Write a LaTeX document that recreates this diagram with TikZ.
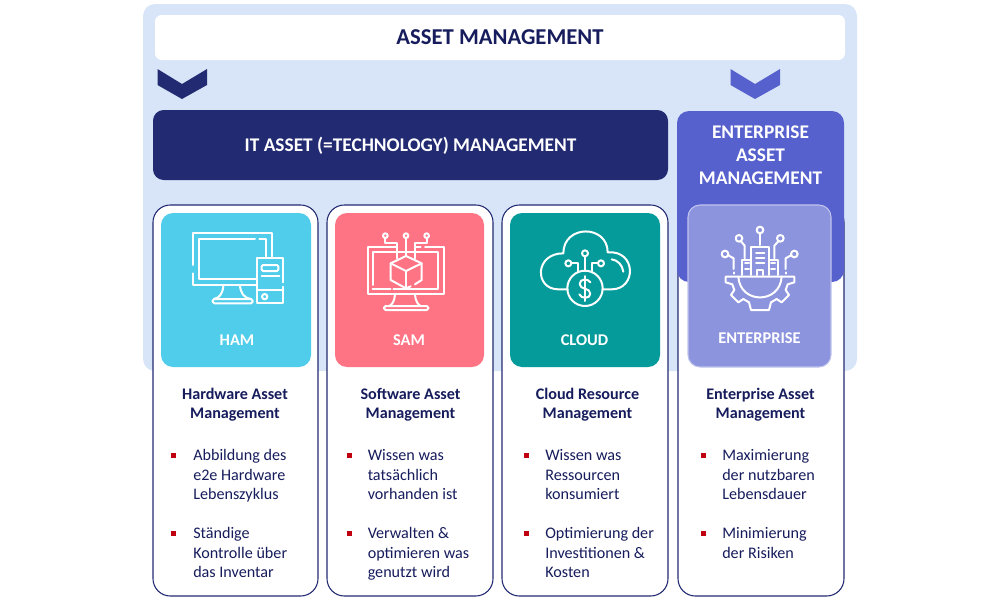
\documentclass[tikz,border=0pt]{standalone}
\usepackage{fontspec}
\setmainfont{Carlito}
\definecolor{navy}{HTML}{222A72}
\definecolor{inktext}{HTML}{161C5C}
\definecolor{backblue}{HTML}{D8E5F8}
\definecolor{entblue}{HTML}{5661CD}
\definecolor{hamtile}{HTML}{4FCDEB}
\definecolor{samtile}{HTML}{FF7485}
\definecolor{cloudtile}{HTML}{059B9A}
\definecolor{enttile}{HTML}{8D94DE}
\definecolor{bulletred}{HTML}{C00010}
\tikzset{
	card/.style = {draw = navy, line width = 0.8pt, fill = white, rounded corners = 13pt},
	tile/.style = {rounded corners = 9pt},
	icon/.style = {draw = white, line width = 1.5pt, line join = round, line cap = round},
	tilelabel/.style = {text = white, font = \fontsize{12.3}{14}\selectfont\bfseries},
	cardhead/.style = {text = inktext, align = center, font = \fontsize{12.1}{14.6}\selectfont\bfseries},
	cardtext/.style = {text = inktext, align = left, anchor = north west, inner sep = 0pt, font = \fontsize{12.1}{14.6}\selectfont},
	headtext/.style = {text = white, align = center, font = \fontsize{14.5}{17.3}\selectfont\bfseries}
}
\begin{document}
\begin{tikzpicture}[x = 0.75pt, y = -0.75pt]
	\useasboundingbox (0, 0) rectangle (1000, 600);
	
	\fill[backblue, rounded corners = 9pt] (143, 4) rectangle (857, 371);
	\fill[white, rounded corners = 5pt] (155, 15) rectangle (845, 60);
	\node[text = inktext, font = \fontsize{17}{20}\selectfont\bfseries] (title) at (500, 37.5) {ASSET MANAGEMENT};
	
	\fill[navy] (157.5, 69) -- (182, 84) -- (207, 69) -- (207, 85) -- (182, 99) -- (157.5, 85) -- cycle;
	\fill[entblue] (730.5, 69) -- (755, 84) -- (780, 69) -- (780, 85) -- (755, 99) -- (730.5, 85) -- cycle;
	
	\fill[navy, rounded corners = 8pt] (153, 110) rectangle (668, 180);
	\node[headtext] (itasset) at (410.5, 145.5) {IT ASSET (=TECHNOLOGY) MANAGEMENT};
	
	\foreach \xa/\xb in {153/318, 327/493, 502/668, 678/844}
	\draw[card] (\xa, 205) rectangle (\xb, 596);
	
	\fill[entblue, rounded corners = 9pt] (677, 111) rectangle (844, 282);
	\node[headtext] (enterprisehead) at (760.5, 155.5) {ENTERPRISE\\ASSET\\MANAGEMENT};
	
	\fill[hamtile, tile] (161, 213) rectangle (311, 367);
	\fill[samtile, tile] (335, 213) rectangle (484, 367);
	\fill[cloudtile, tile] (510, 213) rectangle (660, 367);
	\draw[enttile!55!white, fill = enttile, line width = 0.8pt, tile] (688, 205) rectangle (831, 367);
	
	\node[tilelabel] (ham) at (237, 340.5) {HAM};
	\node[tilelabel] (sam) at (409, 340.5) {SAM};
	\node[tilelabel] (cloud) at (584.5, 340.5) {CLOUD};
	\node[tilelabel] (enterprise) at (759.5, 338.5) {ENTERPRISE};
	
	% hardware icon
	\begin{scope}[shift = {(140, 195)}, x = 0.25pt, y = -0.25pt]
	\draw[icon] (160, 210) -- (160, 115) -- (397, 115) -- (397, 185);
	\draw[icon] (160, 235) -- (160, 270) -- (352, 270);
	\draw[icon] (345, 133) -- (178, 133) -- (178, 253) -- (350, 253);
	\draw[icon] (358, 133) -- (378, 133) -- (378, 188);
	\draw[icon] (250, 272) .. controls (248, 295) and (240, 308) .. (222, 312);
	\draw[icon] (300, 272) .. controls (302, 295) and (312, 308) .. (332, 312);
	\draw[icon, rounded corners = 1.2pt] (218, 312) rectangle (338, 325);
	\draw[icon] (430, 262) -- (430, 190) -- (352, 190) -- (352, 325) -- (430, 325) -- (430, 275);
	\draw[icon, rounded corners = 1pt] (365, 210) rectangle (415, 228);
	\draw[icon] (365, 242) -- (418, 242);
	\draw[icon] (352, 285) -- (430, 285);
	\draw[icon] (374, 305) circle (8);
	\end{scope}
	
	% software icon
	\begin{scope}[shift = {(140, 195)}, x = 0.25pt, y = -0.25pt]
	\draw[icon] (770, 155) -- (683, 155) -- (683, 298) -- (913, 298) -- (913, 155) -- (855, 155);
	\draw[icon] (842, 155) -- (825, 155);
	\draw[icon] (698, 270) -- (698, 170) -- (895, 170) -- (895, 283) -- (760, 283);
	\draw[icon] (698, 283) -- (752, 283);
	\draw[icon] (798, 183) -- (845, 205) -- (845, 255) -- (825, 268);
	\draw[icon] (812, 274) -- (798, 280) -- (752, 255) -- (752, 205) -- (798, 183);
	\draw[icon] (752, 205) -- (798, 228) -- (845, 205);
	\draw[icon] (798, 228) -- (798, 280);
	\draw[icon] (765, 300) .. controls (763, 320) and (755, 330) .. (748, 333);
	\draw[icon] (825, 300) .. controls (827, 320) and (835, 330) .. (842, 333);
	\draw[icon, rounded corners = 1.2pt] (732, 333) rectangle (865, 345);
	\foreach \x in {736, 798, 860}
	\draw[icon] (\x, 122) circle (7);
	\draw[icon] (798, 130) -- (798, 183);
	\draw[icon] (736, 130) -- (736, 143) -- (770, 143) -- (770, 190);
	\draw[icon] (860, 130) -- (860, 143) -- (825, 143) -- (825, 190);
	\end{scope}
	
	% cloud icon
	\begin{scope}[shift = {(495, 195)}, x = 0.25pt, y = -0.25pt]
	\draw[icon] (218, 283) -- (190, 283) .. controls (118, 283) and (118, 175) .. (205, 175) .. controls (205, 88) and (338, 88) .. (338, 172) .. controls (425, 165) and (425, 283) .. (350, 283) -- (322, 283);
	\draw[icon] (350, 193) .. controls (368, 195) and (382, 210) .. (385, 230);
	\draw[icon] (270, 280) circle (53);
	\draw[icon] (270, 175) circle (9);
	\draw[icon] (220, 205) circle (9);
	\draw[icon] (318, 205) circle (9);
	\draw[icon] (270, 185) -- (270, 228);
	\draw[icon] (230, 205) -- (250, 205) -- (250, 232);
	\draw[icon] (308, 205) -- (290, 205) -- (290, 232);
	\draw[icon] (286, 262) .. controls (280, 250) and (254, 250) .. (254, 267) .. controls (254, 285) and (286, 277) .. (286, 296) .. controls (286, 312) and (258, 312) .. (253, 298);
	\draw[icon] (270, 243) -- (270, 318);
	\end{scope}
	
	% enterprise icon
	\begin{scope}[shift = {(495, 195)}, x = 0.25pt, y = -0.25pt]
	\draw[icon] (795, 105) circle (10);
	\draw[icon] (732, 130) circle (10);
	\draw[icon] (856, 130) circle (10);
	\draw[icon] (690, 177) circle (10);
	\draw[icon] (898, 177) circle (10);
	\draw[icon] (795, 115) -- (795, 150);
	\draw[icon] (738, 139) -- (749, 152) -- (749, 190);
	\draw[icon] (850, 139) -- (838, 152) -- (838, 190);
	\draw[icon] (700, 181) -- (716, 190) -- (716, 222);
	\draw[icon] (888, 181) -- (872, 190) -- (872, 222);
	\draw[icon] (716, 232) -- (716, 236);
	\draw[icon] (872, 232) -- (872, 236);
	\draw[icon] (768, 240) -- (768, 155) -- (822, 155) -- (822, 240);
	\draw[icon] (768, 195) -- (742, 195) -- (742, 240);
	\draw[icon] (822, 195) -- (848, 195) -- (848, 240);
	\foreach \y in {175, 190, 205}
	\draw[icon] (783, \y) -- (808, \y);
	\foreach \y in {205, 222} {
		\draw[icon] (750, \y) -- (762, \y);
		\draw[icon] (828, \y) -- (840, \y);
	}
	\draw[icon] (785, 240) -- (785, 225) -- (803, 225) -- (803, 240);
	\draw[icon] (692, 245) -- (692, 262) -- (712, 268) -- (718, 285) -- (708, 300) -- (730, 322) -- (745, 312) -- (762, 322) -- (768, 345) -- (822, 345) -- (828, 322) -- (845, 312) -- (860, 322) -- (882, 300) -- (872, 285) -- (878, 268) -- (898, 262) -- (898, 245) -- cycle;
	\draw[icon] (730, 245) .. controls (735, 328) and (855, 328) .. (860, 245);
	\end{scope}
	
	% card texts
	\node[cardhead] (hamhead) at (235, 404.5) {Hardware Asset\\Management};
	\node[cardhead] (samhead) at (410.5, 404.5) {Software Asset\\Management};
	\node[cardhead] (cloudhead) at (587.5, 404.5) {Cloud Resource\\Management};
	\node[cardhead] (enthead) at (760.5, 404.5) {Enterprise Asset\\Management};
	
	\foreach \x/\y in {173/455, 173/533, 349/455, 349/533, 526/455, 526/533, 703/455, 703/533}
	\fill[bulletred] (\x - 2.5, \y - 2.5) rectangle (\x + 2.5, \y + 2.5);
	
	\node[cardtext] (hamone) at (193, 449.5) {Abbildung des\\e2e Hardware\\Lebenszyklus};
	\node[cardtext] (hamtwo) at (193, 527.5) {Ständige\\Kontrolle über\\das Inventar};
	\node[cardtext] (samone) at (367.5, 449.5) {Wissen was\\tatsächlich\\vorhanden ist};
	\node[cardtext] (samtwo) at (367.5, 527.5) {Verwalten \&\\optimieren was\\genutzt wird};
	\node[cardtext] (cloudone) at (545, 449.5) {Wissen was\\Ressourcen\\konsumiert};
	\node[cardtext] (cloudtwo) at (545, 527.5) {Optimierung der\\Investitionen \&\\Kosten};
	\node[cardtext] (entone) at (722, 449.5) {Maximierung\\der nutzbaren\\Lebensdauer};
	\node[cardtext] (enttwo) at (722, 527.5) {Minimierung\\der Risiken};
\end{tikzpicture}
\end{document}
